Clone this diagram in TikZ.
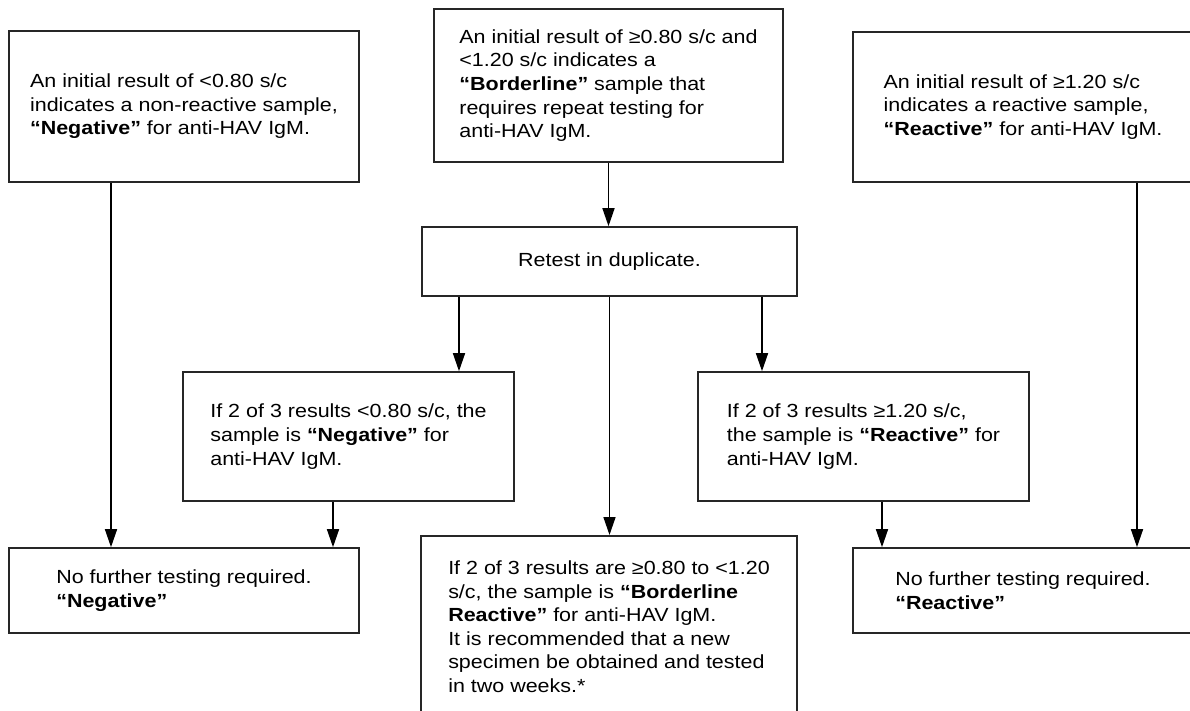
\documentclass[tikz,border=0pt]{standalone}
\usepackage{fontspec}
\setmainfont{Liberation Sans}[FakeStretch=1.13]
\usetikzlibrary{arrows.meta}

\begin{document}
\begin{tikzpicture}
    [
        x=0.5pt, y=-0.5pt,
        box/.style={draw=black!85, line width=0.8pt, align=left, inner sep=0pt,
            font=\fontsize{9.5pt}{11.8pt}\selectfont},
        arr/.style={-{Triangle[length=9pt,width=6pt]}, line width=0.75pt},
    ]
    \useasboundingbox (0,0) rectangle (1190,711);
    \clip (0,0) rectangle (1190,711);

    % first results
    \node (neg)  at (184,106.5)  [box, minimum width=175pt, minimum height=75.5pt]
        {An initial result of <0.80 s/c\\ indicates a non-reactive sample,\\ \textbf{“Negative”} for anti-HAV IgM.};
    \node (bord) at (608.5,85.5) [box, minimum width=174.5pt, minimum height=76.5pt]
        {An initial result of ≥0.80 s/c and\\ <1.20 s/c indicates a\\ \textbf{“Borderline”} sample that\\ requires repeat testing for\\ anti-HAV IgM.};
    \node (reac) at (1023,107)   [box, minimum width=170pt, minimum height=75pt]
        {An initial result of ≥1.20 s/c\\ indicates a reactive sample,\\ \textbf{“Reactive”} for anti-HAV IgM.};

    % retest
    \node (retest) at (609.5,261.5) [box, minimum width=187.5pt, minimum height=34.5pt]
        {Retest in duplicate.};
    \node (negtwo)  at (348.5,436.5) [box, minimum width=165.5pt, minimum height=64.5pt]
        {If 2 of 3 results <0.80 s/c, the\\ sample is \textbf{“Negative”} for\\ anti-HAV IgM.};
    \node (reactwo) at (863.5,436.5) [box, minimum width=165.5pt, minimum height=64.5pt]
        {If 2 of 3 results ≥1.20 s/c,\\ the sample is \textbf{“Reactive”} for\\ anti-HAV IgM.};

    % final
    \node (negend)  at (184,590.5)  [box, minimum width=175pt, minimum height=42.5pt]
        {No further testing required.\\ \textbf{“Negative”}};
    \node (reacend) at (1023,590.5) [box, minimum width=170pt, minimum height=42.5pt]
        {No further testing required.\\ \textbf{“Reactive”}};
    \node (bordend) at (609,535) [box, anchor=north, minimum width=188pt, inner ysep=12.5pt]
        {If 2 of 3 results are ≥0.80 to <1.20\\ s/c, the sample is \textbf{“Borderline}\\ \textbf{Reactive”} for anti-HAV IgM.\\ It is recommended that a new\\ specimen be obtained and tested\\ in two weeks.*};

    \coordinate (p1) at (111,0);
    \coordinate (p2) at (459,0);
    \coordinate (p3) at (762,0);
    \coordinate (p4) at (333,0);
    \coordinate (p5) at (882,0);
    \coordinate (p6) at (1137,0);

    \draw[arr] (neg.south -| p1) -- (negend.north -| p1);
    \draw[arr] (bord.south) -- (bord.south |- retest.north);
    \draw[arr] (retest.south -| p2) -- (negtwo.north -| p2);
    \draw[arr] (retest.south) -- (retest.south |- bordend.north);
    \draw[arr] (retest.south -| p3) -- (reactwo.north -| p3);
    \draw[arr] (negtwo.south -| p4) -- (negend.north -| p4);
    \draw[arr] (reactwo.south -| p5) -- (reacend.north -| p5);
    \draw[arr] (reac.south -| p6) -- (reacend.north -| p6);

\end{tikzpicture}
\end{document}
